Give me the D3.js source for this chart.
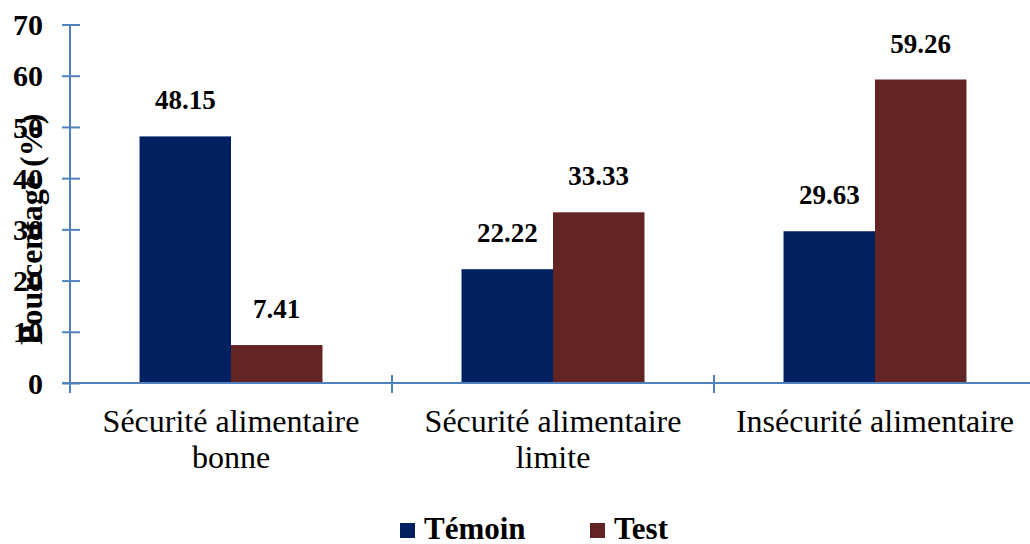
<!DOCTYPE html>
<html>
<head>
<meta charset="UTF-8">
<title>Sécurité alimentaire</title>
<script src="https://d3js.org/d3.v7.min.js"></script>
<style>
  body { margin: 0; background: #fff; }
  svg text { font-family: "Liberation Serif", "Times New Roman", serif; }
</style>
</head>
<body>
<svg id="chart" width="1030" height="544"></svg>
<script>
// data
const categories = [["Sécurité alimentaire", "bonne"], ["Sécurité alimentaire", "limite"], ["Insécurité alimentaire"]];
const seriesNames = ["Témoin", "Test"];
const temoin = [48.15, 22.22, 29.63];
const test = [7.41, 33.33, 59.26];
const yTicks = [0, 10, 20, 30, 40, 50, 60, 70];
const colors = ["#002060", "#632523"];

const axisColor = "#4f81bd";
const svg = d3.select("#chart");

const x = d3.scaleBand().domain(d3.range(categories.length)).range([70, 1036]).padding(0);
const xs = d3.scaleBand().domain(seriesNames).range([0, x.bandwidth()]).paddingInner(0).paddingOuter(0.76);
const y = d3.scaleLinear().domain([0, 70]).range([383, 24.5]);

const values = [temoin, test];

// bars
seriesNames.forEach((s, si) => {
  svg.append("g").selectAll("rect")
    .data(values[si])
    .enter().append("rect")
    .attr("x", (d, i) => x(i) + xs(s))
    .attr("y", d => y(d))
    .attr("width", xs.bandwidth())
    .attr("height", d => y(0) - y(d))
    .attr("fill", colors[si]);
});

// value labels
seriesNames.forEach((s, si) => {
  svg.append("g").selectAll("text")
    .data(values[si])
    .enter().append("text")
    .attr("x", (d, i) => x(i) + xs(s) + xs.bandwidth() / 2)
    .attr("y", d => y(d) - 27)
    .attr("text-anchor", "middle")
    .attr("font-size", "27px")
    .attr("font-weight", "bold")
    .text(d => d.toFixed(2));
});

// y axis
const yAxis = svg.append("g")
  .attr("transform", "translate(70,0)")
  .call(d3.axisLeft(y).tickValues(yTicks).tickSize(8).tickPadding(19));
yAxis.attr("font-family", null);
yAxis.select(".domain").remove();
yAxis.selectAll(".tick line").attr("x2", 10).attr("x1", -8).attr("stroke", axisColor).attr("stroke-width", 2);
yAxis.selectAll(".tick text")
  .attr("font-size", "30px")
  .attr("font-weight", "bold")
  .attr("fill", "#000")
  .attr("dy", "0.34em");
svg.append("line")
  .attr("x1", 70).attr("x2", 70)
  .attr("y1", y(70)).attr("y2", y(0) + 10)
  .attr("stroke", axisColor).attr("stroke-width", 2);

// x axis
svg.append("line")
  .attr("x1", 62).attr("x2", 1036)
  .attr("y1", y(0)).attr("y2", y(0))
  .attr("stroke", axisColor).attr("stroke-width", 2);
svg.append("g").selectAll("line")
  .data(d3.range(categories.length + 1))
  .enter().append("line")
  .attr("x1", i => i < categories.length ? x(i) : x.range()[1])
  .attr("x2", i => i < categories.length ? x(i) : x.range()[1])
  .attr("y1", y(0) - 8).attr("y2", y(0) + 10)
  .attr("stroke", axisColor).attr("stroke-width", 2);

const catText = svg.append("g").selectAll("text")
  .data(categories)
  .enter().append("text")
  .attr("x", (d, i) => x(i) + x.bandwidth() / 2)
  .attr("y", 432)
  .attr("text-anchor", "middle")
  .attr("font-size", "32px");
catText.selectAll("tspan")
  .data(d => d)
  .enter().append("tspan")
  .attr("x", function () { return this.parentNode.getAttribute("x"); })
  .attr("dy", (d, i) => i === 0 ? 0 : 36)
  .text(d => d);

// y title
svg.append("text")
  .attr("transform", "translate(42,345) rotate(-90)")
  .attr("text-anchor", "start")
  .attr("font-size", "32px")
  .attr("font-weight", "bold")
  .text("Pourcentage (%)");

// legend
const legendX = [400, 590];
const lg = svg.append("g").selectAll("g")
  .data(seriesNames)
  .enter().append("g")
  .attr("transform", (d, i) => `translate(${legendX[i]},523)`);
lg.append("rect").attr("width", 15).attr("height", 15).attr("fill", (d, i) => colors[i]);
lg.append("text")
  .attr("x", 24).attr("y", 16)
  .attr("font-size", "31px")
  .attr("font-weight", "bold")
  .text(d => d);
</script>
</body>
</html>
